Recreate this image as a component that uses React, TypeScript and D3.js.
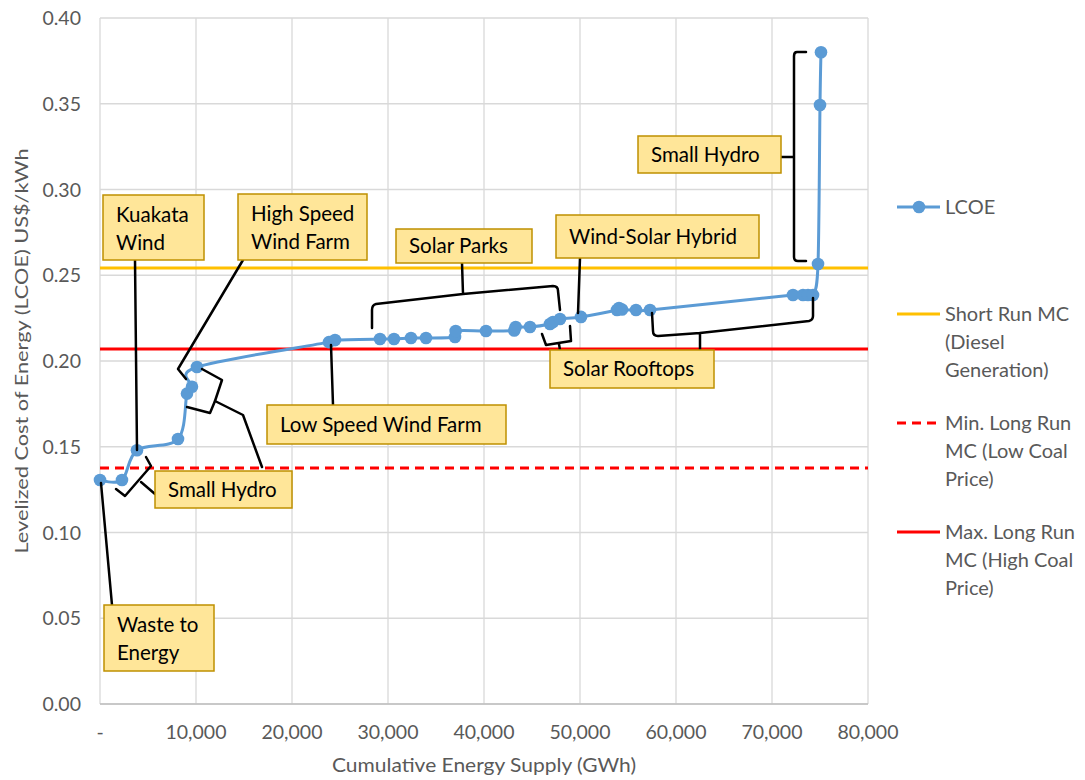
import React from "react";
import * as d3 from "d3";

// Cumulative supply (GWh) and LCOE (US$/kWh)
const supply = [0, 2290, 3850, 8125, 9060, 9580, 10100, 23850, 24480, 29167, 30625, 32396, 33958, 36979, 37050, 40208, 43150, 43300, 44792, 46875, 47187, 47917, 50104, 53854, 54062, 54375, 55833, 57292, 72187, 73229, 73750, 74271, 74792, 75000, 75104];
const lcoe = [0.1306, 0.1306, 0.148, 0.1545, 0.181, 0.185, 0.1965, 0.211, 0.2122, 0.2128, 0.2128, 0.2134, 0.2134, 0.214, 0.2175, 0.2175, 0.2178, 0.2198, 0.2198, 0.2216, 0.2227, 0.2245, 0.2257, 0.2297, 0.2309, 0.23, 0.2297, 0.2297, 0.2385, 0.2385, 0.2385, 0.2385, 0.2566, 0.3493, 0.380];

const shortRunMC = 0.2542;
const maxLongRunMC = 0.207;
const minLongRunMC = 0.1376;

const xTicks = [0, 10000, 20000, 30000, 40000, 50000, 60000, 70000, 80000];
const yTicks = [0, 0.05, 0.1, 0.15, 0.2, 0.25, 0.3, 0.35, 0.4];

const legendItems = [
  { label: ["LCOE"], color: "#5B9BD5", dash: "", marker: true, y: 207 },
  { label: ["Short Run MC", "(Diesel", "Generation)"], color: "#FFC000", dash: "", marker: false, y: 314 },
  { label: ["Min. Long Run", "MC (Low Coal", "Price)"], color: "#FF0000", dash: "9,6", marker: false, y: 423 },
  { label: ["Max. Long Run", "MC (High Coal", "Price)"], color: "#FF0000", dash: "", marker: false, y: 532 },
];

const callouts = [
  { lines: ["Kuakata", "Wind"], box: [103, 195, 204, 260] },
  { lines: ["High Speed", "Wind Farm"], box: [238, 194, 367, 260] },
  { lines: ["Solar Parks"], box: [396, 229, 532, 263] },
  { lines: ["Wind-Solar Hybrid"], box: [556, 215, 759, 258] },
  { lines: ["Small Hydro"], box: [638, 136, 781, 173] },
  { lines: ["Solar Rooftops"], box: [550, 350, 714, 388] },
  { lines: ["Low Speed Wind Farm"], box: [267, 405, 506, 444] },
  { lines: ["Small Hydro"], box: [155, 471, 292, 508] },
  { lines: ["Waste to", "Energy"], box: [104, 605, 214, 671] },
];

const connectors = [
  "M135,260 L137,450",
  "M243,260 L178,369 L186,379",
  "M202,369 L222,380 L215,401 L210,413 L187,407",
  "M215,401 L243,415 L262,467",
  "M116,489 L125,496 L151,466 L146,457",
  "M141,482 L155,494",
  "M101,483 L112,605",
  "M333,405 L331,345",
  "M462,263 L463,294 M463,294 L376,304 Q372,305 372,310 L372,328 M463,294 L553,286 Q558,286 558,291 L560,310",
  "M580,258 L578,313",
  "M542,334 L546,345 L571,341 L570,326 M559,344 L560,350",
  "M700,350 L700,333 M700,333 L658,336 Q653,336 653,331 L652,313 M700,333 L809,321 Q813,320 813,316 L813,298",
  "M781,157 L794,157 M806,52 L797,52 Q794,52 794,56 L794,257 Q794,261 798,261 L806,261",
];

export default function App() {
  const W = 1085, H = 780;
  const x = d3.scaleLinear().domain([0, 80000]).range([100, 868]);
  const y = d3.scaleLinear().domain([0, 0.4]).range([704, 18]);
  const pts: [number, number][] = supply.map((s, i) => [x(s), y(lcoe[i])]);
  const line = d3.line().curve(d3.curveCatmullRom.alpha(0))(pts) || "";
  const font = "Lato, 'Open Sans', sans-serif";
  const grey = "#595959";
  const fmt = (v: number) => (v === 0 ? "-" : d3.format(",")(v));

  return (
    <svg width={W} height={H} style={{ position: "absolute", left: 0, top: 0, background: "#fff" }} fontFamily={font}>
      <rect width={W} height={H} fill="#fff" />
      {yTicks.map((t) => (
        <line key={"gy" + t} x1={100} x2={868} y1={y(t)} y2={y(t)} stroke="#d9d9d9" strokeWidth={1.3} />
      ))}
      {xTicks.map((t) => (
        <line key={"gx" + t} x1={x(t)} x2={x(t)} y1={18} y2={704} stroke="#d9d9d9" strokeWidth={1.3} />
      ))}
      <line x1={100} x2={868} y1={704} y2={704} stroke="#bfbfbf" strokeWidth={1.3} />
      {yTicks.map((t) => (
        <text key={"ly" + t} x={81} y={y(t) + 7} textAnchor="end" fontSize={19.5} fill={grey}>
          {t.toFixed(2)}
        </text>
      ))}
      {xTicks.map((t) => (
        <text key={"lx" + t} x={x(t)} y={739} textAnchor="middle" fontSize={19.5} fill={grey}>
          {fmt(t)}
        </text>
      ))}
      <text x={484} y={772} textAnchor="middle" fontSize={19} fill={grey} textLength={304} lengthAdjust="spacingAndGlyphs">
        Cumulative Energy Supply (GWh)
      </text>
      <text transform="translate(28,351) rotate(-90)" textAnchor="middle" fontSize={18} fill={grey} textLength={405} lengthAdjust="spacingAndGlyphs">
        Levelized Cost of Energy (LCOE) US$/kWh
      </text>
      <line x1={100} x2={868} y1={y(minLongRunMC)} y2={y(minLongRunMC)} stroke="#FF0000" strokeWidth={3} strokeDasharray="9,6" />
      <line x1={100} x2={868} y1={y(maxLongRunMC)} y2={y(maxLongRunMC)} stroke="#FF0000" strokeWidth={3} />
      <line x1={100} x2={868} y1={y(shortRunMC)} y2={y(shortRunMC)} stroke="#FFC000" strokeWidth={3} />
      <path d={line} fill="none" stroke="#5B9BD5" strokeWidth={3} strokeLinejoin="round" />
      {pts.map((p, i) => (
        <circle key={"p" + i} cx={p[0]} cy={p[1]} r={6.3} fill="#5B9BD5" />
      ))}
      {connectors.map((d, i) => (
        <path key={"c" + i} d={d} fill="none" stroke="#000" strokeWidth={2.5} strokeLinejoin="round" strokeLinecap="round" />
      ))}
      {callouts.map((c, i) => {
        const [x0, y0, x1, y1] = c.box;
        return (
          <g key={"b" + i}>
            <rect x={x0} y={y0} width={x1 - x0} height={y1 - y0} fill="#FFE699" stroke="#BF9000" strokeWidth={1.5} />
            {c.lines.map((l, j) => (
              <text key={j} x={x0 + 13} y={c.lines.length === 1 ? (y0 + y1) / 2 + 7 : y0 + 27 + j * 28} fontSize={20.5} fill="#000">
                {l}
              </text>
            ))}
          </g>
        );
      })}
      {legendItems.map((it, i) => (
        <g key={"lg" + i}>
          <line x1={897} x2={940} y1={it.y} y2={it.y} stroke={it.color} strokeWidth={3} strokeDasharray={it.dash || undefined} />
          {it.marker && <circle cx={919} cy={it.y} r={6.3} fill={it.color} />}
          {it.label.map((l, j) => (
            <text key={j} x={945} y={it.y + 7 + j * 28} fontSize={20} fill={grey}>
              {l}
            </text>
          ))}
        </g>
      ))}
    </svg>
  );
}
